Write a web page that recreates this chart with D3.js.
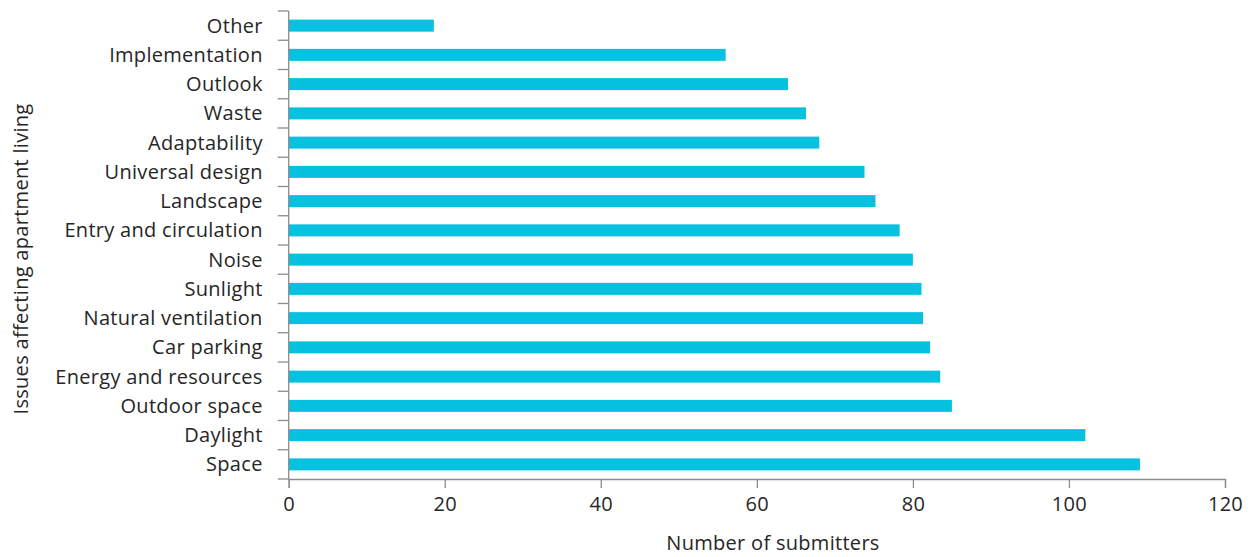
<!DOCTYPE html>
<html>
<head>
<meta charset="utf-8">
<script src="https://cdn.jsdelivr.net/npm/d3@7"></script>
<style>
  body { margin: 0; background: #fff; }
  text { font-family: "Open Sans", sans-serif; font-weight: 400; fill: #262626; letter-spacing: 0.3px; }
  .axis path, .axis line { stroke: #8c8c8c; stroke-width: 1.3; }
</style>
</head>
<body>
<svg width="1258" height="557"></svg>
<script>
// listed top to bottom as drawn
const categories = ["Other", "Implementation", "Outlook", "Waste", "Adaptability",
  "Universal design", "Landscape", "Entry and circulation", "Noise", "Sunlight",
  "Natural ventilation", "Car parking", "Energy and resources", "Outdoor space",
  "Daylight", "Space"];
const submitters = [18.6, 56, 64, 66.3, 68, 73.8, 75.2, 78.3, 80, 81.1,
  81.3, 82.2, 83.5, 85, 102.1, 109.1];
const xTicks = [0, 20, 40, 60, 80, 100, 120];

const margin = {top: 11, right: 33, bottom: 78, left: 288.7};
const width = 1258 - margin.left - margin.right;
const height = 557 - margin.top - margin.bottom;

const svg = d3.select("svg")
  .append("g")
  .attr("transform", "translate(" + margin.left + "," + margin.top + ")");

const x = d3.scaleLinear().domain([0, 120]).range([0, width]);
const y = d3.scaleBand().domain(categories).range([0, height]).paddingInner(0.59).paddingOuter(0.295);

// bars
svg.selectAll(".bar")
  .data(categories)
  .enter().append("rect")
  .attr("class", "bar")
  .attr("x", 0)
  .attr("y", d => y(d))
  .attr("width", (d, i) => x(submitters[i]))
  .attr("height", y.bandwidth())
  .attr("fill", "#06c1df");

// x axis
const xAxis = svg.append("g")
  .attr("class", "axis axis--x")
  .attr("transform", "translate(0," + height + ")")
  .call(d3.axisBottom(x).tickValues(xTicks).tickSize(9).tickSizeOuter(9).tickPadding(9));
xAxis.selectAll("text").style("font-size", "20px").style("fill", "#262626");

// y axis: ticks on band edges, labels centered in bands
const edges = d3.range(categories.length + 1).map(i => i * height / categories.length);
const yAxis = svg.append("g").attr("class", "axis axis--y");
yAxis.append("line").attr("x1", 0).attr("x2", 0).attr("y1", 0).attr("y2", height);
yAxis.selectAll(".tk").data(edges).enter().append("line")
  .attr("class", "tk")
  .attr("x1", -11).attr("x2", 0)
  .attr("y1", d => d).attr("y2", d => d);
yAxis.selectAll(".lbl").data(categories).enter().append("text")
  .attr("class", "lbl")
  .attr("x", -26)
  .attr("y", d => y(d) + y.bandwidth() / 2)
  .attr("dy", "0.35em")
  .attr("text-anchor", "end")
  .style("font-size", "20px")
  .text(d => d);

// axis titles
svg.append("text")
  .attr("x", 773 - margin.left)
  .attr("y", 550 - margin.top)
  .attr("text-anchor", "middle")
  .style("font-size", "20px")
  .text("Number of submitters");

svg.append("text")
  .attr("transform", "rotate(-90)")
  .attr("x", -(259 - margin.top))
  .attr("y", 28 - margin.left)
  .attr("text-anchor", "middle")
  .style("font-size", "20px")
  .text("Issues affecting apartment living");
</script>
</body>
</html>
